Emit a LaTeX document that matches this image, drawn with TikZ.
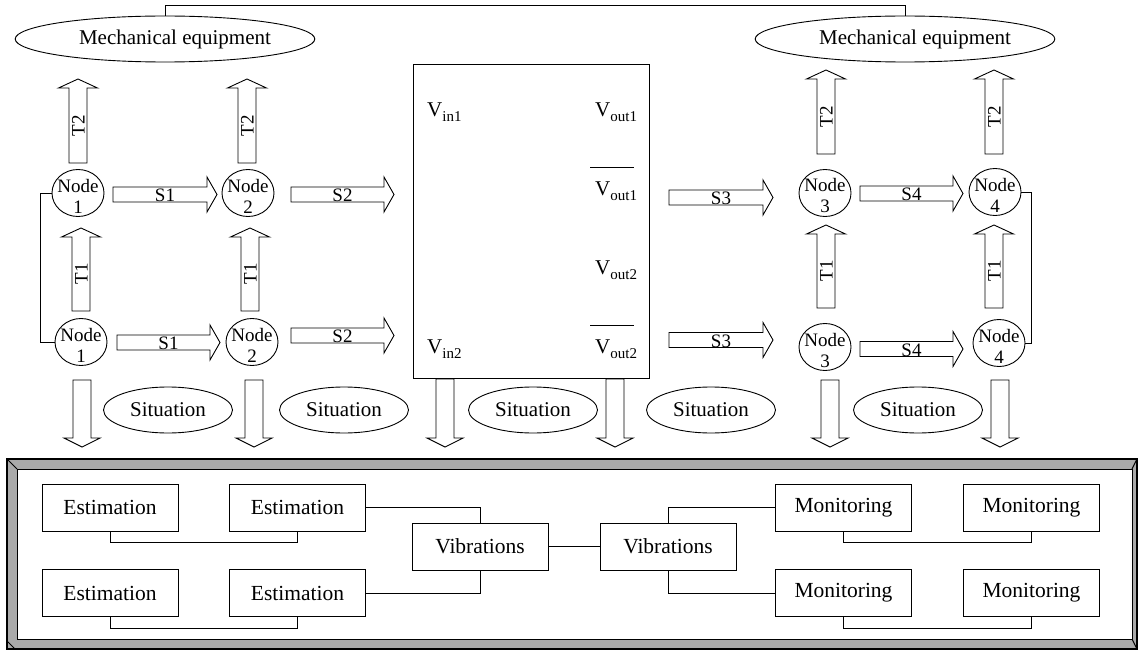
\documentclass[tikz,border=0pt]{standalone}
\usepackage{fontspec}
\setmainfont{Liberation Serif}
\usetikzlibrary{shapes.geometric,calc}
\definecolor{bevel}{RGB}{170,170,170}
\tikzset{
  fatline/.style={draw=black, line width=0.9pt, fill=white, line join=miter},
  flabel/.style={font=\fontsize{19}{21}\selectfont, inner sep=0pt},
  conn/.style={draw=black, line width=0.9pt},
  ell/.style={ellipse, draw=black, line width=0.9pt, inner sep=0pt, font=\fontsize{21}{24}\selectfont},
  nodec/.style={ellipse, draw=black, line width=0.9pt, inner sep=0pt, minimum width=52pt, minimum height=47pt},
  ntext/.style={inner sep=0pt, align=center, font=\fontsize{19}{21}\selectfont},
  pbox/.style={rectangle, draw=black, line width=1pt, fill=white, minimum width=136pt, minimum height=47pt, inner sep=0pt, font=\fontsize{21.5}{24}\selectfont},
  vlab/.style={anchor=base west, inner sep=0pt, font=\fontsize{21}{24}\selectfont}
}
\newcommand{\hfat}[5]{%
  \draw[fatline] (#2,{#4-7.5}) -- ({#3-10},{#4-7.5}) -- ({#3-10},{#4-17.5}) -- (#3,#4) -- ({#3-10},{#4+17.5}) -- ({#3-10},{#4+7.5}) -- (#2,{#4+7.5}) -- cycle;
  \node[flabel, anchor=base] (#1) at ({(#2+#3)/2},{#4+7}) {#5};}
\newcommand{\ufat}[5]{%
  \draw[fatline] ({#2-9},#4) -- ({#2-9},{#3+9}) -- ({#2-19.5},{#3+9}) -- (#2,#3) -- ({#2+19.5},{#3+9}) -- ({#2+9},{#3+9}) -- ({#2+9},#4) -- cycle;
  \node[flabel, rotate=90, anchor=base] (#1) at ({#2+6.5},{(#3+9+#4)/2}) {#5};}
\newcommand{\dfat}[3]{%
  \draw[fatline] ({#1-9},#2) -- ({#1-9},{#3-9}) -- ({#1-18},{#3-9}) -- (#1,#3) -- ({#1+18},{#3-9}) -- ({#1+9},{#3-9}) -- ({#1+9},#2) -- cycle;}
\newcommand{\subs}[1]{\raisebox{-5pt}{\fontsize{15}{15}\selectfont #1}}
\newcommand{\netnode}[4]{%
  \node[nodec] (#1) at (#2,#3) {};
  \node[ntext] (#1t) at ($(#1.center)+(0,3)$) {Node\\#4};}
\begin{document}
\begin{tikzpicture}[x=1pt,y=-1pt]
\useasboundingbox (0,0) rectangle (1138,650);

% ---- top ellipses
\node[ell, minimum width=274pt, minimum height=46pt] (meL) at (165,39) {\hspace*{20pt}Mechanical equipment};
\node[ell, minimum width=274pt, minimum height=46pt] (meR) at (905,39) {\hspace*{20pt}Mechanical equipment};
\draw[conn] (meL.north) -- ++(0,-10) -| (meR.north);

% ---- nodes
\netnode{n1}{78}{193}{1}
\netnode{n2}{248}{193}{2}
\netnode{n3}{825}{193}{3}
\netnode{n4}{995}{192}{4}
\netnode{n1b}{81}{342}{1}
\netnode{n2b}{252}{342}{2}
\netnode{n3b}{825}{347}{3}
\netnode{n4b}{999}{343}{4}
\draw[conn] (n1.west) -- ++(-11,0) |- (n1b.west);
\draw[conn] (n4.east) -- ++(10,0) |- (n4b.east);

% ---- horizontal fat arrows
\hfat{s1a}{113}{217}{194.5}{S1}
\hfat{s2a}{291}{394}{194.5}{S2}
\hfat{s3a}{669}{773}{197.5}{S3}
\hfat{s4a}{860}{963}{193.5}{S4}
\hfat{s1b}{117}{220}{342.5}{S1}
\hfat{s2b}{291}{394}{335.5}{S2}
\hfat{s3b}{669}{773}{340}{S3}
\hfat{s4b}{860}{963}{349}{S4}

% ---- vertical fat arrows (up)
\ufat{t2a}{78}{79}{163}{T2}
\ufat{t2b}{247}{79}{163}{T2}
\ufat{t2c}{826}{70}{154}{T2}
\ufat{t2d}{994}{70}{154}{T2}
\ufat{t1a}{81}{228}{311}{T1}
\ufat{t1b}{250}{228}{311}{T1}
\ufat{t1c}{826}{225}{308}{T1}
\ufat{t1d}{994}{225}{308}{T1}

% ---- central box
\node[rectangle, draw=black, line width=1pt, minimum width=236pt, minimum height=313pt, inner sep=0pt] (sys) at (531,221.5) {};
\node[vlab] (vin1) at (427,117) {V\subs{in1}};
\node[vlab] (vin2) at (427,353) {V\subs{in2}};
\node[vlab] (vo1) at (595,117) {V\subs{out1}};
\node[vlab] (vob1) at (595,196) {V\subs{out1}};
\node[vlab] (vo2) at (595,274) {V\subs{out2}};
\node[vlab] (vob2) at (595,353) {V\subs{out2}};
\draw[conn] (590,167) -- (634,167);
\draw[conn] (590,325) -- (634,325);

% ---- down fat arrows
\dfat{82}{380}{447}
\dfat{254}{380}{447}
\dfat{445}{379}{447}
\dfat{615}{379}{447}
\dfat{830}{380}{447}
\dfat{1000}{380}{447}

% ---- situation ellipses
\node[ell, minimum width=129pt, minimum height=46pt] (sit1) at (168,410) {Situation};
\node[ell, minimum width=129pt, minimum height=46pt] (sit2) at (344,410) {Situation};
\node[ell, minimum width=129pt, minimum height=46pt] (sit3) at (533,410) {Situation};
\node[ell, minimum width=129pt, minimum height=46pt] (sit4) at (711,410) {Situation};
\node[ell, minimum width=129pt, minimum height=46pt] (sit5) at (918,410) {Situation};

% ---- bottom bevel panel
\fill[bevel] (7,459) rectangle (1137,649);
\draw[line width=1.6pt] (7,459) rectangle (1137,649);
\draw[line width=1pt, fill=white] (17,469) rectangle (1132,639);
\draw[line width=1pt] (7,459) -- (17,469);
\draw[line width=1pt] (7,641) -- (15,649);
\draw[line width=1pt] (1137,459) -- (1132,469);
\draw[line width=1pt] (1137,649) -- (1132,639);

\node[pbox] (e1) at (110,507.5) {Estimation};
\node[pbox] (e2) at (297.5,507.5) {Estimation};
\node[pbox] (e3) at (110,593) {Estimation};
\node[pbox] (e4) at (297.5,593) {Estimation};
\node[pbox] (v1) at (480,546.5) {Vibrations};
\node[pbox] (v2) at (668,546.5) {Vibrations};
\node[pbox] (m1) at (843.5,507.5) {Monitoring};
\node[pbox] (m2) at (1031.5,507.5) {Monitoring};
\node[pbox] (m3) at (843.5,593) {Monitoring};
\node[pbox] (m4) at (1031.5,593) {Monitoring};

\draw[conn] (e1.south) -- ++(0,11) -| (e2.south);
\draw[conn] (e3.south) -- ++(0,11) -| (e4.south);
\draw[conn] (m1.south) -- ++(0,11) -| (m2.south);
\draw[conn] (m3.south) -- ++(0,11) -| (m4.south);
\draw[conn] (e2.east) -| (v1.north);
\draw[conn] (e4.east) -| (v1.south);
\draw[conn] (v1.east) -- (v2.west);
\draw[conn] (v2.north) |- (m1.west);
\draw[conn] (v2.south) |- (m3.west);
\end{tikzpicture}
\end{document}
